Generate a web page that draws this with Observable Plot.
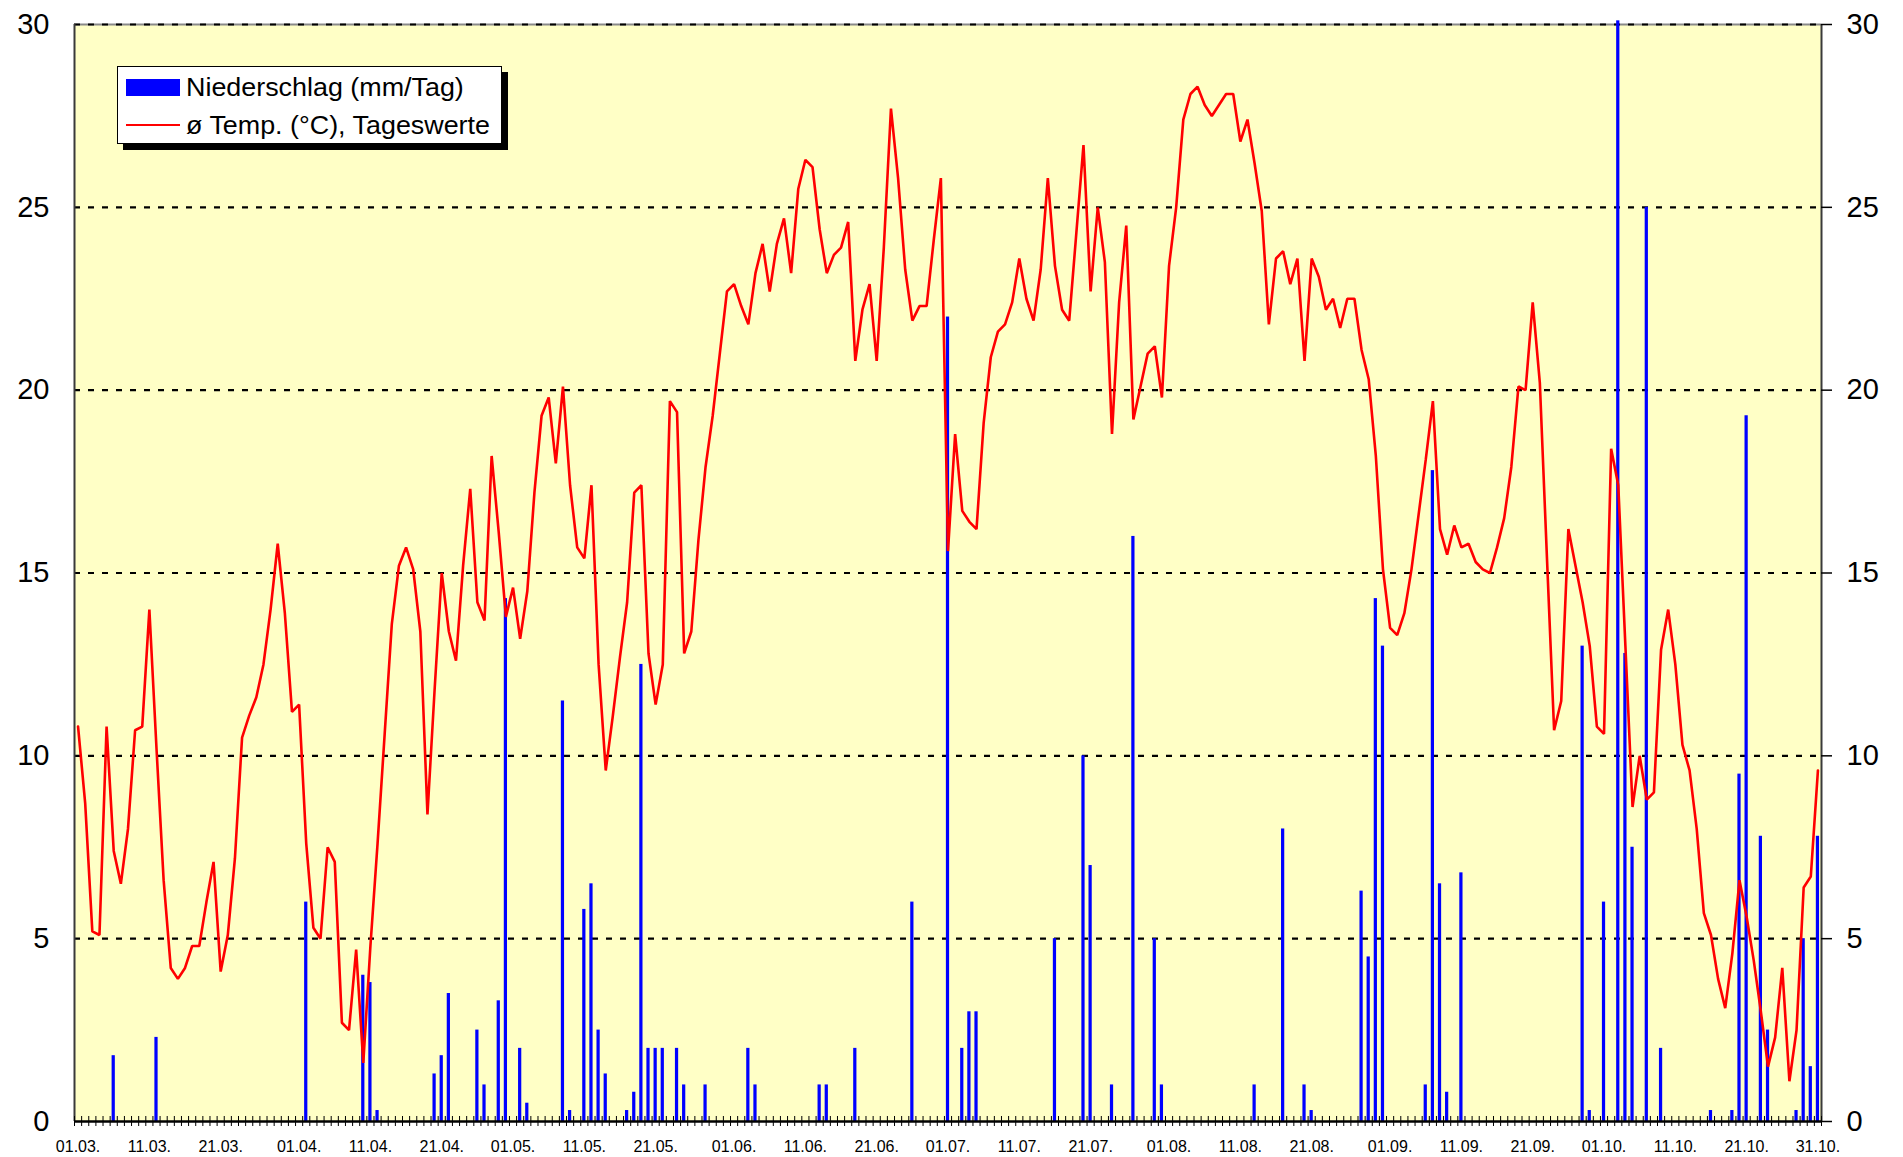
<!DOCTYPE html>
<html>
<head>
<meta charset="utf-8">
<script src="https://cdn.jsdelivr.net/npm/d3@7"></script>
<script src="https://cdn.jsdelivr.net/npm/@observablehq/plot@0.6"></script>
<style>
  body { margin: 0; background: #ffffff; font-family: "Liberation Sans", Arial, sans-serif; }
  #wrap { position: relative; width: 1903px; height: 1157px; }
  #legend {
    position: absolute; left: 117px; top: 66px; width: 385px; height: 78px;
    background: #ffffff; border: 1px solid #000000; box-shadow: 6px 6px 0 #000000;
    box-sizing: border-box; font-size: 25px; color: #000;
  }
  .row { position: absolute; left: 0; height: 30px; width: 100%; display: flex; align-items: center; white-space: nowrap; }
  .sw { width: 54px; margin-left: 8px; margin-right: 6px; flex: none; }
  .bar { height: 17px; background: #0000ff; }
  .ln { height: 2px; background: #ff0000; }
  .row span { display: inline-block; transform: scaleX(1.075); transform-origin: left center; }
</style>
</head>
<body>
<div id="wrap">
  <div id="chart"></div>
  <div id="legend">
    <div class="row" style="top:5px"><div class="sw bar"></div><span>Niederschlag (mm/Tag)</span></div>
    <div class="row" style="top:43px"><div class="sw ln"></div><span>ø Temp. (°C), Tageswerte</span></div>
  </div>
</div>
<script>
// Daily mean temperature (°C), 01.03. – 31.10., one array per month
const tempMar = [10.8, 8.7, 5.2, 5.1, 10.8, 7.4, 6.5, 8.0, 10.7, 10.8,
  14.0, 10.2, 6.6, 4.2, 3.9, 4.2, 4.8, 4.8, 6.0, 7.1,
  4.1, 5.1, 7.2, 10.5, 11.1, 11.6, 12.5, 14.0, 15.8, 13.9, 11.2];
const tempApr = [11.4, 7.6, 5.3, 5.0, 7.5, 7.1, 2.7, 2.5, 4.7, 1.6,
  4.8, 7.6, 10.6, 13.6, 15.2, 15.7, 15.1, 13.4, 8.4, 11.8,
  15.0, 13.4, 12.6, 15.2, 17.3, 14.2, 13.7, 18.2, 16.1, 13.8];
const tempMay = [14.6, 13.2, 14.5, 17.2, 19.3, 19.8, 18.0, 20.1, 17.4, 15.7,
  15.4, 17.4, 12.5, 9.6, 11.1, 12.7, 14.2, 17.2, 17.4, 12.8,
  11.4, 12.5, 19.7, 19.4, 12.8, 13.4, 15.9, 17.9, 19.3, 21.0, 22.7];
const tempJun = [22.9, 22.3, 21.8, 23.2, 24.0, 22.7, 24.0, 24.7, 23.2, 25.5,
  26.3, 26.1, 24.4, 23.2, 23.7, 23.9, 24.6, 20.8, 22.2, 22.9,
  20.8, 23.9, 27.7, 25.8, 23.3, 21.9, 22.3, 22.3, 24.1, 25.8];
const tempJul = [15.6, 18.8, 16.7, 16.4, 16.2, 19.1, 20.9, 21.6, 21.8, 22.4,
  23.6, 22.5, 21.9, 23.3, 25.8, 23.4, 22.2, 21.9, 24.3, 26.7,
  22.7, 25.0, 23.5, 18.8, 22.4, 24.5, 19.2, 20.1, 21.0, 21.2, 19.8];
const tempAug = [23.4, 25.0, 27.4, 28.1, 28.3, 27.8, 27.5, 27.8, 28.1, 28.1,
  26.8, 27.4, 26.2, 24.9, 21.8, 23.6, 23.8, 22.9, 23.6, 20.8,
  23.6, 23.1, 22.2, 22.5, 21.7, 22.5, 22.5, 21.1, 20.3, 18.2, 15.1];
const tempSep = [13.5, 13.3, 13.9, 15.1, 16.6, 18.1, 19.7, 16.2, 15.5, 16.3,
  15.7, 15.8, 15.3, 15.1, 15.0, 15.7, 16.5, 17.9, 20.1, 20.0,
  22.4, 20.2, 15.4, 10.7, 11.5, 16.2, 15.2, 14.2, 13.0, 10.8];
const tempOct = [10.6, 18.4, 17.4, 13.0, 8.6, 10.0, 8.8, 9.0, 12.9, 14.0,
  12.5, 10.3, 9.6, 8.0, 5.7, 5.1, 3.9, 3.1, 4.6, 6.6,
  5.6, 4.4, 3.0, 1.5, 2.3, 4.2, 1.1, 2.5, 6.4, 6.7, 9.6];

// Daily precipitation (mm/Tag), one array per month
const precMar = [0, 0, 0, 0, 0, 1.8, 0, 0, 0, 0,
  0, 2.3, 0, 0, 0, 0, 0, 0, 0, 0,
  0, 0, 0, 0, 0, 0, 0, 0, 0, 0, 0];
const precApr = [0, 6.0, 0, 0, 0, 0, 0, 0, 0, 4.0,
  3.8, 0.3, 0, 0, 0, 0, 0, 0, 0, 1.3,
  1.8, 3.5, 0, 0, 0, 2.5, 1.0, 0, 3.3, 14.3];
const precMay = [0, 2.0, 0.5, 0, 0, 0, 0, 11.5, 0.3, 0,
  5.8, 6.5, 2.5, 1.3, 0, 0, 0.3, 0.8, 12.5, 2.0,
  2.0, 2.0, 0, 2.0, 1.0, 0, 0, 1.0, 0, 0, 0];
const precJun = [0, 0, 2.0, 1.0, 0, 0, 0, 0, 0, 0,
  0, 0, 1.0, 1.0, 0, 0, 0, 2.0, 0, 0,
  0, 0, 0, 0, 0, 6.0, 0, 0, 0, 0];
const precJul = [22.0, 0, 2.0, 3.0, 3.0, 0, 0, 0, 0, 0,
  0, 0, 0, 0, 0, 5.0, 0, 0, 0, 10.0,
  7.0, 0, 0, 1.0, 0, 0, 16.0, 0, 0, 5.0, 1.0];
const precAug = [0, 0, 0, 0, 0, 0, 0, 0, 0, 0,
  0, 0, 1.0, 0, 0, 0, 8.0, 0, 0, 1.0,
  0.3, 0, 0, 0, 0, 0, 0, 6.3, 4.5, 14.3, 13.0];
const precSep = [0, 0, 0, 0, 0, 1.0, 17.8, 6.5, 0.8, 0,
  6.8, 0, 0, 0, 0, 0, 0, 0, 0, 0,
  0, 0, 0, 0, 0, 0, 0, 13.0, 0.3, 0];
const precOct = [6.0, 0, 30.1, 12.8, 7.5, 0, 25.0, 0, 2.0, 0,
  0, 0, 0, 0, 0, 0.3, 0, 0, 0.3, 9.5,
  19.3, 0, 7.8, 2.5, 0, 0, 0, 0.3, 5.0, 1.5, 7.8];

// Category axis labels (day index from 01.03. → label)
const labelDays = [0, 10, 20, 31, 41, 51, 61, 71, 81, 92, 102, 112, 122, 132, 142, 153, 163, 173, 184, 194, 204, 214, 224, 234, 244];
const labelTexts = ["01.03.", "11.03.", "21.03.", "01.04.", "11.04.", "21.04.", "01.05.", "11.05.", "21.05.", "01.06.", "11.06.", "21.06.", "01.07.", "11.07.", "21.07.", "01.08.", "11.08.", "21.08.", "01.09.", "11.09.", "21.09.", "01.10.", "11.10.", "21.10.", "31.10."];

const yTicks = [0, 5, 10, 15, 20, 25, 30];
const gridVals = [5, 10, 15, 20, 25, 30];

const temp = [].concat(tempMar, tempApr, tempMay, tempJun, tempJul, tempAug, tempSep, tempOct);
const precip = [].concat(precMar, precApr, precMay, precJun, precJul, precAug, precSep, precOct);

const W = 1903, H = 1157;
const mL = 74, mR = 82, mT = 24, mB = 36;
const plotW = W - mL - mR, plotH = H - mT - mB;

const n = temp.length;
const data = d3.range(n).map(i => ({ i, t: temp[i], p: precip[i] }));
const xMin = -0.5, xMax = n - 0.5;
const boundaries = d3.range(n + 1).map(k => k - 0.5);

const chart = Plot.plot({
  width: W,
  height: H,
  marginLeft: mL,
  marginRight: mR,
  marginTop: mT,
  marginBottom: mB,
  style: { fontFamily: "'Liberation Sans', Arial, sans-serif", fontSize: "16px", background: "transparent", overflow: "visible", color: "#000" },
  x: {
    domain: [xMin, xMax],
    ticks: labelDays,
    tickFormat: d => labelTexts[labelDays.indexOf(d)],
    tickSize: 0,
    tickPadding: 19,
    label: null
  },
  y: { domain: [0, 30], axis: null },
  marks: [
    Plot.frame({ fill: "#ffffc6", stroke: null }),
    Plot.ruleY([30], { stroke: "#8a8a8a", strokeWidth: 2 }),
    Plot.ruleY(gridVals, { stroke: "#000", strokeWidth: 2.2, strokeDasharray: "6,8" }),
    Plot.rectY(data.filter(d => d.p > 0), {
      x1: d => d.i - 0.5, x2: d => d.i + 0.5, y1: 0, y2: "p",
      fill: "#0000ff", insetLeft: 1.95, insetRight: 1.95
    }),
    Plot.line(data, { x: "i", y: "t", stroke: "#ff0000", strokeWidth: 2.6, strokeLinejoin: "miter" }),
    Plot.ruleX([xMin], { stroke: "#3a3a3a", strokeWidth: 2 }),
    Plot.ruleX([xMax], { stroke: "#3a3a3a", strokeWidth: 2 }),
    Plot.ruleY([0], { stroke: "#000", strokeWidth: 2.5 }),
    Plot.tickX(boundaries, { x: d => d, stroke: "#000", strokeWidth: 1, insetTop: plotH - 5, insetBottom: -5 }),
    Plot.tickY(yTicks, { y: d => d, stroke: "#000", strokeWidth: 1.5, insetLeft: plotW, insetRight: -11 }),
    Plot.text(yTicks, { x: () => xMin, y: d => d, text: d => String(d), dx: -25, textAnchor: "end", fontSize: 29, fill: "#000" }),
    Plot.text(yTicks, { x: () => xMax, y: d => d, text: d => String(d), dx: 25, textAnchor: "start", fontSize: 29, fill: "#000" })
  ]
});
document.getElementById("chart").appendChild(chart);
</script>
</body>
</html>
